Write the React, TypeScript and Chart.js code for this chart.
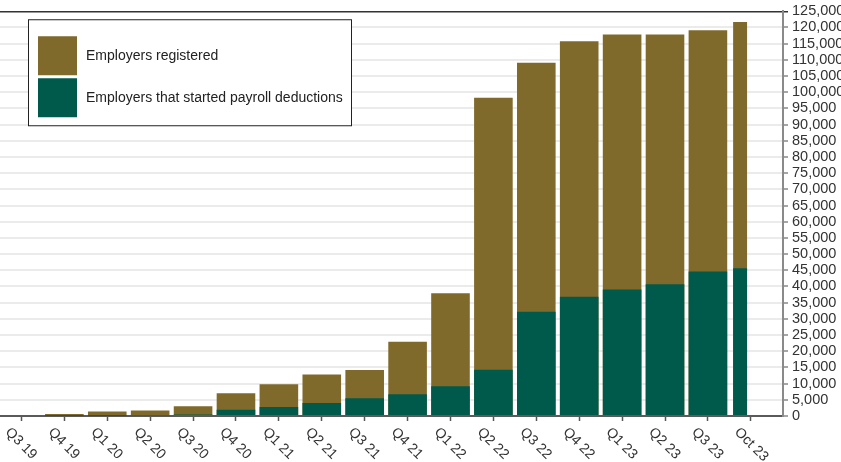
import React, { useEffect, useRef } from 'react';
import { Chart, registerables } from 'chart.js';

Chart.register(...registerables);

// ---- data ----
const periods = [
  'Q3 19', 'Q4 19', 'Q1 20', 'Q2 20', 'Q3 20', 'Q4 20', 'Q1 21', 'Q2 21', 'Q3 21',
  'Q4 21', 'Q1 22', 'Q2 22', 'Q3 22', 'Q4 22', 'Q1 23', 'Q2 23', 'Q3 23', 'Oct 23',
];
const employersRegistered = [
  300, 600, 1400, 1700, 3000, 7000, 9800, 12800, 14200,
  22900, 37900, 98300, 109100, 115700, 117800, 117800, 119100, 121700,
];
const employersStartedDeductions = [
  0, 50, 100, 250, 450, 1900, 2800, 4000, 5500,
  6700, 9150, 14300, 32200, 36800, 39100, 40700, 44600, 45600,
];
const seriesLabels = ['Employers registered', 'Employers that started payroll deductions'];
const seriesColors = ['#806a2b', '#005a4c'];
const quarterCount = 17; // the final period is a single month
const yMin = 0;
const yMax = 125000;
const yStep = 5000;

const FONT = "'Liberation Sans', Arial, Helvetica, sans-serif";

const points = (values: number[]) => values.map((y, x) => ({ x, y }));
const quarterly = (values: number[]) => points(values).slice(0, quarterCount);
const monthly = (values: number[]) => points(values).slice(quarterCount);

const xLabelPlugin = {
  id: 'rotatedXLabels',
  afterDraw(chart: any) {
    const { ctx, chartArea } = chart;
    const x = chart.scales.x;
    ctx.save();
    ctx.font = `14px ${FONT}`;
    ctx.fillStyle = '#333333';
    ctx.textAlign = 'left';
    ctx.textBaseline = 'middle';
    periods.forEach((label, i) => {
      const px = x.getPixelForValue(i);
      ctx.save();
      ctx.translate(px - 14, chartArea.bottom + 14);
      ctx.rotate(Math.PI / 4);
      ctx.fillText(label, 0, 0);
      ctx.restore();
    });
    ctx.restore();
  },
};

const legendBoxPlugin = {
  id: 'legendBox',
  afterDraw(chart: any) {
    const { ctx, chartArea } = chart;
    const left = chartArea.left + 28;
    const top = chartArea.top + 8;
    const width = 324;
    const height = 107;
    ctx.save();
    ctx.fillStyle = '#ffffff';
    ctx.fillRect(left, top, width, height);
    ctx.strokeStyle = '#222222';
    ctx.lineWidth = 1;
    ctx.strokeRect(left + 0.5, top + 0.5, width - 1, height - 1);
    ctx.font = `14px ${FONT}`;
    ctx.textAlign = 'left';
    ctx.textBaseline = 'middle';
    seriesLabels.forEach((label, i) => {
      const sy = top + 17 + i * 42;
      ctx.fillStyle = seriesColors[i];
      ctx.fillRect(left + 10, sy, 39, 39);
      ctx.fillStyle = '#222222';
      ctx.fillText(label, left + 58, sy + 20);
    });
    ctx.restore();
  },
};

export default function App() {
  const canvasRef = useRef<HTMLCanvasElement | null>(null);

  useEffect(() => {
    document.body.style.margin = '0';
    const canvas = canvasRef.current;
    if (!canvas) return;

    const barCommon = {
      categoryPercentage: 1,
      borderWidth: 0,
    };

    const chart = new Chart(canvas, {
      type: 'bar',
      data: {
        datasets: [
          {
            ...barCommon,
            label: seriesLabels[0],
            data: quarterly(employersRegistered),
            backgroundColor: seriesColors[0],
            barPercentage: 0.9,
            grouped: false,
            order: 2,
          },
          {
            ...barCommon,
            label: seriesLabels[1],
            data: quarterly(employersStartedDeductions),
            backgroundColor: seriesColors[1],
            barPercentage: 0.9,
            grouped: false,
            order: 1,
          },
          {
            ...barCommon,
            label: seriesLabels[0] + ' (month)',
            data: monthly(employersRegistered),
            backgroundColor: seriesColors[0],
            barPercentage: 0.65,
            stack: 'month',
            order: 2,
          },
          {
            ...barCommon,
            label: seriesLabels[1] + ' (month)',
            data: monthly(employersStartedDeductions),
            backgroundColor: seriesColors[1],
            barPercentage: 0.65,
            stack: 'month',
            order: 1,
          },
          {
            ...barCommon,
            label: 'spacer',
            data: [{ x: quarterCount, y: null }],
            backgroundColor: 'rgba(0,0,0,0)',
            stack: 'spacer',
            order: 3,
          },
        ],
      } as any,
      options: {
        responsive: false,
        animation: false,
        layout: { padding: { top: 8, left: 0, right: 0, bottom: 0 } },
        plugins: {
          legend: { display: false },
          tooltip: { enabled: false },
          title: { display: false },
        },
        scales: {
          x: {
            type: 'linear',
            bounds: 'data',
            offset: false,
            min: -0.5,
            max: 17.75,
            afterBuildTicks: (axis: any) => {
              axis.ticks = periods.map((_, i) => ({ value: i }));
            },
            afterFit: (axis: any) => {
              axis.height = 46;
            },
            ticks: { display: false },
            grid: {
              offset: false,
              drawOnChartArea: false,
              drawTicks: true,
              tickLength: 5,
              tickColor: '#555555',
              tickWidth: 1.5,
            },
            border: { display: true, color: '#5a5a5a', width: 2 },
          },
          y: {
            type: 'linear',
            position: 'right',
            stacked: false,
            min: yMin,
            max: yMax,
            afterFit: (axis: any) => {
              axis.width = 58;
            },
            ticks: {
              stepSize: yStep,
              autoSkip: false,
              padding: 4,
              color: '#333333',
              font: { family: FONT, size: 14.5, lineHeight: 1 },
              callback: (v: any) => Number(v).toLocaleString('en-US'),
            },
            grid: {
              color: (c: any) => (c.tick && c.tick.value === yMax ? '#333333' : '#ebebeb'),
              lineWidth: (c: any) => (c.tick && c.tick.value === yMax ? 1.5 : 2),
              tickLength: 5,
              tickColor: (c: any) => (c.tick && c.tick.value === yMax ? '#333333' : '#888888'),
              tickWidth: 1.5,
            },
            border: { display: true, color: '#8a8a8a', width: 2 },
          },
        },
      } as any,
      plugins: [xLabelPlugin, legendBoxPlugin],
    });

    return () => chart.destroy();
  }, []);

  return (
    <div style={{ width: 841, height: 462, position: 'relative', background: '#ffffff' }}>
      <canvas ref={canvasRef} width={841} height={462} />
    </div>
  );
}
